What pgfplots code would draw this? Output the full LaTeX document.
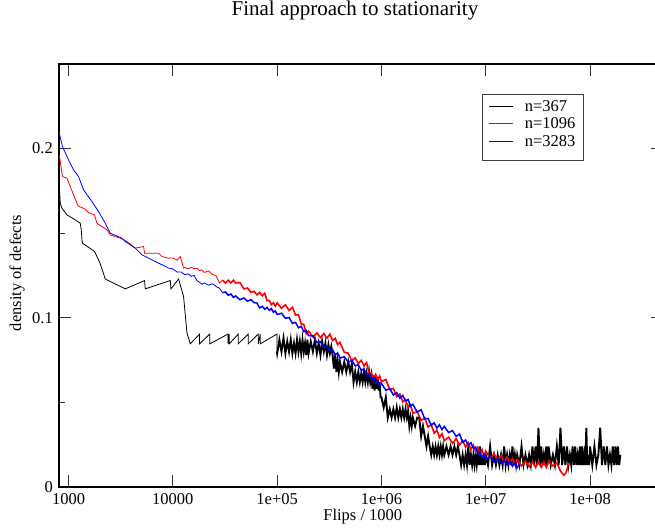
\documentclass[border=0pt]{standalone}
\usepackage{fontspec}
\setmainfont{Liberation Serif}
\usepackage{pgfplots}
\pgfplotsset{compat=1.18}
\definecolor{serblue}{RGB}{0,0,255}
\definecolor{serred}{RGB}{255,0,0}
\begin{document}
\begin{tikzpicture}
\begin{axis}[
  scale only axis, width=604pt, height=423pt,
  xmode=log, log basis x=10,
  xmin=810, xmax=5e8, ymin=0, ymax=0.25,
  xtick={1000,10000,100000,1000000,10000000,100000000},
  xticklabels={1000,10000,1e+05,1e+06,1e+07,1e+08},
  xminorticks=false,
  ytick={0,0.1,0.2}, yticklabels={0,0.1,0.2},
  minor ytick={0.05,0.15},
  tick align=inside,
  major tick length=12pt, minor tick length=6pt,
  every tick/.style={black!80, line width=1.1pt},
  axis line style={line width=1.2pt, black},
  ticklabel style={font=\fontsize{16.5}{18}\selectfont, inner sep=0pt},
  xticklabel style={anchor=north, yshift=-6pt},
  yticklabel style={anchor=east, xshift=-6pt},
  title={Final approach to stationarity},
  title style={at={(0.49,1)}, anchor=base, yshift=43pt, inner sep=0pt, font=\fontsize{21}{24}\selectfont},
  xlabel={Flips / 1000},
  xlabel style={at={(0.503,0)}, anchor=base, yshift=-33pt, inner sep=0pt, font=\fontsize{16.5}{18}\selectfont},
  ylabel={density of defects},
  ylabel style={at={(0,0.506)}, anchor=base, yshift=38pt, inner sep=0pt, font=\fontsize{16.5}{18}\selectfont},
  legend style={at={(0.7003,0.929)}, anchor=north west, draw=black!75, fill=white,
    font=\fontsize{16.5}{17}\selectfont, inner xsep=6pt, inner ysep=4pt, row sep=1pt},
  legend cell align=left,
  legend image code/.code={\draw[#1] (0pt,0pt) -- (24pt,0pt); \path[draw=none,fill=none] (0pt,-1pt) -- (34pt,1pt);},
]
\addlegendimage{black, line width=1pt}
\addlegendentry{n=367}
\addlegendimage{serred, line width=1.2pt}
\addlegendentry{n=1096}
\addlegendimage{serblue, line width=1.2pt}
\addlegendentry{n=3283}
\addlegendimage{white, line width=0pt, opacity=0}
\addlegendentry{}
% n=367, sparse part
\addplot[black, line width=0.8pt, forget plot] coordinates {
(817,0.1770) (832,0.1678) (863,0.1648) (966,0.1608) (1117,0.1585) (1295,0.1559) (1324,0.1520) (1345,0.1461) (1362,0.1441) (1775,0.1392) (2004,0.1323) (2249,0.1229) (3499,0.1171) (5354,0.1220) (5437,0.1171) (9441,0.1220) (9590,0.1171) (11350,0.1229) (12670,0.1126) (13650,0.0910) (14680,0.0846) (18030,0.0904) (18030,0.0846) (22590,0.0904) (22590,0.0846) (33770,0.0904) (33770,0.0846) (34740,0.0904) (34740,0.0846) (42370,0.0904) (42370,0.0846) (52840,0.0904) (52840,0.0846) (65920,0.0904) (65920,0.0846) (68870,0.0904) (68870,0.0846) (99540,0.0904) (99540,0.0800)
};
% n=367, dense part
\addplot[black, line width=1.9pt, forget plot] coordinates {
(99540,0.0800)
(1.00e5,0.079) (1.05e5,0.087) (1.10e5,0.080) (1.15e5,0.088) (1.20e5,0.079) (1.25e5,0.086) (1.30e5,0.080) (1.35e5,0.087) (1.40e5,0.079) (1.45e5,0.085) (1.50e5,0.079) (1.55e5,0.087) (1.60e5,0.080) (1.65e5,0.086) (1.70e5,0.079) (1.75e5,0.087) (1.80e5,0.080) (1.85e5,0.085) (1.90e5,0.078) (1.95e5,0.087)
(2.0e5,0.079) (2.1e5,0.086) (2.2e5,0.080) (2.3e5,0.087) (2.4e5,0.079) (2.5e5,0.085) (2.6e5,0.078) (2.7e5,0.086) (2.8e5,0.080) (2.9e5,0.085) (3.0e5,0.078) (3.1e5,0.084) (3.2e5,0.079) (3.3e5,0.083) (3.4e5,0.078) (3.5e5,0.070) (3.6e5,0.078) (3.7e5,0.068) (3.8e5,0.075) (3.9e5,0.068)
(4.0e5,0.074) (4.2e5,0.068) (4.4e5,0.074) (4.6e5,0.068) (4.8e5,0.074) (5.0e5,0.068) (5.2e5,0.073) (5.4e5,0.062) (5.6e5,0.068) (5.8e5,0.062) (6.0e5,0.068) (6.2e5,0.062) (6.4e5,0.067) (6.6e5,0.062) (6.8e5,0.068) (7.0e5,0.062) (7.2e5,0.067) (7.4e5,0.062) (7.6e5,0.068) (7.8e5,0.062) (8.0e5,0.066) (8.2e5,0.058) (8.4e5,0.066) (8.6e5,0.057) (8.8e5,0.065) (9.0e5,0.058) (9.2e5,0.065) (9.4e5,0.057) (9.6e5,0.062) (9.8e5,0.053)
(1.00e6,0.053) (1.05e6,0.047) (1.10e6,0.053) (1.15e6,0.041) (1.20e6,0.046) (1.25e6,0.041) (1.30e6,0.046) (1.35e6,0.041) (1.40e6,0.047) (1.45e6,0.041) (1.50e6,0.046) (1.55e6,0.041) (1.60e6,0.046) (1.65e6,0.041) (1.70e6,0.046) (1.75e6,0.041) (1.80e6,0.045) (1.85e6,0.036) (1.90e6,0.041) (1.95e6,0.036)
(2.0e6,0.041) (2.1e6,0.036) (2.2e6,0.041) (2.3e6,0.041) (2.4e6,0.030) (2.5e6,0.036) (2.6e6,0.030) (2.7e6,0.024) (2.8e6,0.030) (2.9e6,0.024) (3.0e6,0.019) (3.1e6,0.024) (3.2e6,0.019) (3.3e6,0.024) (3.4e6,0.019) (3.5e6,0.024) (3.6e6,0.019) (3.7e6,0.024) (3.8e6,0.019) (3.9e6,0.024)
(4.0e6,0.019) (4.2e6,0.024) (4.4e6,0.019) (4.6e6,0.024) (4.8e6,0.019) (5.0e6,0.024) (5.2e6,0.019) (5.4e6,0.024) (5.6e6,0.019) (5.8e6,0.013) (6.0e6,0.019) (6.2e6,0.013) (6.4e6,0.019) (6.6e6,0.013) (6.8e6,0.024) (7.0e6,0.013) (7.2e6,0.019) (7.4e6,0.013) (7.6e6,0.019) (7.8e6,0.013) (8.0e6,0.019) (8.2e6,0.013) (8.4e6,0.019) (8.6e6,0.013) (8.8e6,0.024) (9.0e6,0.013) (9.2e6,0.019) (9.4e6,0.013) (9.6e6,0.019) (9.8e6,0.013)
(1.00e7,0.019) (1.05e7,0.013) (1.10e7,0.024) (1.15e7,0.013) (1.20e7,0.019) (1.25e7,0.013) (1.30e7,0.019) (1.35e7,0.013) (1.40e7,0.019) (1.45e7,0.013) (1.50e7,0.024) (1.55e7,0.013) (1.60e7,0.019) (1.65e7,0.013) (1.70e7,0.019) (1.75e7,0.013) (1.80e7,0.024) (1.85e7,0.013) (1.90e7,0.019) (1.95e7,0.013)
(2.0e7,0.019) (2.1e7,0.013) (2.2e7,0.024) (2.3e7,0.013) (2.4e7,0.019) (2.5e7,0.013) (2.6e7,0.019) (2.7e7,0.013) (2.8e7,0.024) (2.9e7,0.013) (3.0e7,0.024) (3.1e7,0.013) (3.2e7,0.035) (3.3e7,0.013) (3.4e7,0.024) (3.5e7,0.013) (3.6e7,0.019) (3.7e7,0.013) (3.8e7,0.024) (3.9e7,0.013)
(4.0e7,0.024) (4.2e7,0.013) (4.4e7,0.019) (4.6e7,0.013) (4.8e7,0.024) (5.0e7,0.013) (5.2e7,0.035) (5.4e7,0.013) (5.6e7,0.024) (5.8e7,0.013) (6.0e7,0.024) (6.2e7,0.013) (6.4e7,0.019) (6.6e7,0.013) (6.8e7,0.024) (7.0e7,0.013) (7.2e7,0.024) (7.4e7,0.013) (7.6e7,0.019) (7.8e7,0.013) (8.0e7,0.024) (8.2e7,0.013) (8.4e7,0.024) (8.6e7,0.013) (8.8e7,0.019) (9.0e7,0.013) (9.2e7,0.035) (9.4e7,0.013) (9.6e7,0.019) (9.8e7,0.013)
(1.00e8,0.024) (1.05e8,0.013) (1.10e8,0.024) (1.15e8,0.013) (1.20e8,0.019) (1.25e8,0.035) (1.30e8,0.013) (1.35e8,0.024) (1.40e8,0.013) (1.45e8,0.024) (1.50e8,0.013) (1.55e8,0.019) (1.60e8,0.013) (1.65e8,0.024) (1.70e8,0.013) (1.75e8,0.024) (1.80e8,0.013) (1.85e8,0.024) (1.90e8,0.013) (1.95e8,0.019)
};
% n=1096, sparse part
\addplot[serred, line width=0.8pt, forget plot] coordinates {
(815,0.1963) (875,0.1835) (966,0.1825) (1038,0.1776) (1117,0.1727) (1231,0.1662) (1445,0.1642) (1556,0.1622) (1775,0.1608) (1871,0.1559) (2089,0.1539) (2335,0.1520) (2512,0.1490) (2911,0.1477) (3133,0.1471) (3631,0.1451) (4358,0.1412) (5240,0.1421) (5354,0.1382) (7290,0.1382) (7870,0.1362) (9000,0.1352)
(1.0e4,0.1354) (1.1e4,0.1341) (1.178e4,0.1362) (1.267e4,0.1294) (1.3e4,0.1298) (1.4e4,0.1290) (1.5e4,0.1298) (1.6e4,0.1290) (1.7e4,0.1293) (1.8e4,0.1279) (1.9e4,0.1283) (2.0e4,0.1268) (2.2e4,0.1277) (2.4e4,0.1256) (2.6e4,0.1248) (2.8e4,0.1206) (3.0e4,0.1222)
};
% n=1096, dense part
\addplot[serred, line width=1.6pt, forget plot] coordinates {
(3.0e4,0.1222) (3.2e4,0.1206) (3.4e4,0.1222) (3.6e4,0.1206) (3.8e4,0.1222) (4.0e4,0.1206) (4.4e4,0.1208) (4.8e4,0.1171) (5.2e4,0.1176) (5.6e4,0.1150) (6.0e4,0.1157) (6.4e4,0.1136) (6.8e4,0.1150) (7.2e4,0.1131) (7.6e4,0.1145) (8.0e4,0.1102) (8.4e4,0.1102) (8.8e4,0.1078) (9.2e4,0.1089) (9.6e4,0.1069)
(1.0e5,0.1088) (1.1e5,0.1056) (1.2e5,0.1077) (1.3e5,0.1043) (1.4e5,0.1062) (1.5e5,0.1016) (1.6e5,0.1019) (1.7e5,0.0964) (1.8e5,0.0961) (1.9e5,0.0905) (2.0e5,0.0921) (2.2e5,0.0888) (2.4e5,0.0911) (2.6e5,0.0883) (2.8e5,0.0907) (3.0e5,0.0879) (3.2e5,0.0903) (3.4e5,0.0866) (3.6e5,0.0879) (3.8e5,0.0841) (4.0e5,0.0855) (4.4e5,0.0796) (4.8e5,0.0791) (5.2e5,0.0745) (5.6e5,0.0763) (6.0e5,0.0729) (6.4e5,0.0748) (6.8e5,0.0716) (7.2e5,0.0736) (7.6e5,0.0672) (8.0e5,0.0674) (8.4e5,0.0643) (8.8e5,0.0665) (9.2e5,0.0634) (9.6e5,0.0656)
(1.0e6,0.0622) (1.1e6,0.0636) (1.2e6,0.0576) (1.3e6,0.0582) (1.4e6,0.0534) (1.5e6,0.0550) (1.6e6,0.0504) (1.7e6,0.0518) (1.8e6,0.0468) (1.9e6,0.0484) (2.0e6,0.0436) (2.2e6,0.0445) (2.4e6,0.0394) (2.6e6,0.0407) (2.8e6,0.0354) (3.0e6,0.0369) (3.2e6,0.0318) (3.4e6,0.0336) (3.6e6,0.0293) (3.8e6,0.0315) (4.0e6,0.0274) (4.4e6,0.0294) (4.8e6,0.0258) (5.2e6,0.0286) (5.6e6,0.0248) (6.0e6,0.0274) (6.4e6,0.0237) (6.8e6,0.0262) (7.2e6,0.0222) (7.6e6,0.0247) (8.0e6,0.0208) (8.4e6,0.0234) (8.8e6,0.0195) (9.2e6,0.0221) (9.6e6,0.0184)
(1.0e7,0.0211) (1.1e7,0.0171) (1.2e7,0.0196) (1.3e7,0.0159) (1.4e7,0.0186) (1.5e7,0.0149) (1.6e7,0.0177) (1.7e7,0.0141) (1.8e7,0.0169) (1.9e7,0.0133) (2.0e7,0.0162) (2.2e7,0.0125) (2.4e7,0.0154) (2.6e7,0.0120) (2.8e7,0.0149) (3.0e7,0.0116) (3.2e7,0.0148) (3.4e7,0.0116) (3.6e7,0.0148) (3.8e7,0.0116) (4.0e7,0.0150) (4.4e7,0.0125) (4.8e7,0.0143) (5.2e7,0.0094) (5.6e7,0.0070) (5.8e7,0.0080) (6.0e7,0.0100) (6.2e7,0.0142)
};
% n=3283, sparse part
\addplot[serblue, line width=0.8pt, forget plot] coordinates {
(812,0.2095) (875,0.2012) (1000,0.1933) (1117,0.1874) (1247,0.1835) (1393,0.1756) (1676,0.1687) (1941,0.1628) (2249,0.1559) (2512,0.1500) (3251,0.1471) (3499,0.1451) (4358,0.1412) (5055,0.1372) (6776,0.1333) (9100,0.1294)
(1.0e4,0.1289) (1.1e4,0.1270) (1.2e4,0.1271) (1.3e4,0.1255) (1.4e4,0.1260) (1.5e4,0.1245) (1.6e4,0.1251) (1.7e4,0.1220) (1.8e4,0.1210) (1.9e4,0.1198) (2.0e4,0.1206) (2.2e4,0.1193) (2.4e4,0.1201) (2.6e4,0.1185) (2.8e4,0.1175) (3.0e4,0.1148)
};
% n=3283, dense part
\addplot[serblue, line width=1.5pt, forget plot] coordinates {
(3.0e4,0.1148) (3.2e4,0.1153) (3.4e4,0.1133) (3.6e4,0.1141) (3.8e4,0.1121) (4.0e4,0.1129) (4.4e4,0.1107) (4.8e4,0.1117) (5.2e4,0.1098) (5.6e4,0.1108) (6.0e4,0.1090) (6.4e4,0.1087) (6.8e4,0.1058) (7.2e4,0.1068) (7.6e4,0.1051) (8.0e4,0.1061) (8.4e4,0.1044) (8.8e4,0.1055) (9.2e4,0.1033) (9.6e4,0.1041)
(1.0e5,0.1020) (1.1e5,0.1027) (1.2e5,0.0997) (1.3e5,0.1002) (1.4e5,0.0967) (1.5e5,0.0973) (1.6e5,0.0941) (1.7e5,0.0950) (1.8e5,0.0918) (1.9e5,0.0926) (2.0e5,0.0895) (2.2e5,0.0893) (2.4e5,0.0855) (2.6e5,0.0860) (2.8e5,0.0826) (3.0e5,0.0833) (3.2e5,0.0803) (3.4e5,0.0812) (3.6e5,0.0782) (3.8e5,0.0792) (4.0e5,0.0762) (4.4e5,0.0770) (4.8e5,0.0738) (5.2e5,0.0747) (5.6e5,0.0716) (6.0e5,0.0722) (6.4e5,0.0689) (6.8e5,0.0697) (7.2e5,0.0665) (7.6e5,0.0671) (8.0e5,0.0639) (8.4e5,0.0648) (8.8e5,0.0617) (9.2e5,0.0627) (9.6e5,0.0597)
(1.0e6,0.0612) (1.1e6,0.0572) (1.2e6,0.0581) (1.3e6,0.0544) (1.4e6,0.0558) (1.5e6,0.0525) (1.6e6,0.0541) (1.7e6,0.0508) (1.8e6,0.0517) (1.9e6,0.0478) (2.0e6,0.0489) (2.2e6,0.0443) (2.4e6,0.0456) (2.6e6,0.0403) (2.8e6,0.0405) (3.0e6,0.0366) (3.2e6,0.0379) (3.4e6,0.0349) (3.6e6,0.0368) (3.8e6,0.0339) (4.0e6,0.0358) (4.4e6,0.0322) (4.8e6,0.0333) (5.2e6,0.0299) (5.6e6,0.0313) (6.0e6,0.0265) (6.4e6,0.0278) (6.8e6,0.0246) (7.2e6,0.0262) (7.6e6,0.0229) (8.0e6,0.0236) (8.4e6,0.0196) (8.8e6,0.0205) (9.2e6,0.0174) (9.6e6,0.0194)
(1.0e7,0.0166) (1.1e7,0.0181) (1.2e7,0.0148) (1.3e7,0.0168) (1.4e7,0.0139) (1.5e7,0.0158) (1.6e7,0.0130) (1.7e7,0.0150) (1.8e7,0.0122) (1.9e7,0.0142) (2.0e7,0.0115) (2.1e7,0.0134)
};
\end{axis}
\pgfresetboundingbox
\path[use as bounding box] (-59pt,-44pt) rectangle (596pt,487pt);
\end{tikzpicture}
\end{document}
